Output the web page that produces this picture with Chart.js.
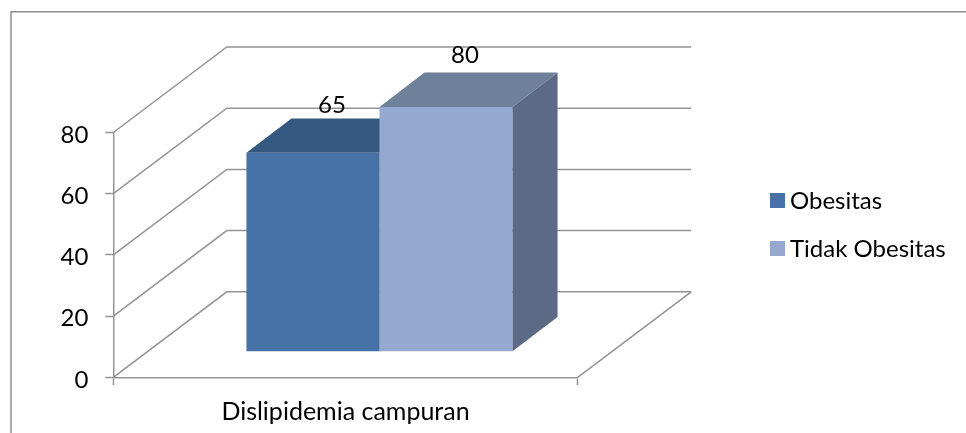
<!DOCTYPE html>
<html>
<head>
<meta charset="utf-8">
<title>Dislipidemia campuran</title>
<script src="https://cdn.jsdelivr.net/npm/chart.js@4"></script>
<style>
  html, body { margin: 0; padding: 0; background: #fff; overflow: hidden; }
  canvas { display: block; }
</style>
</head>
<body>
<canvas id="chart" width="966" height="433"></canvas>
<script>
// Data
const categories = ["Dislipidemia campuran"];
const obesitas = [65];
const tidakObesitas = [80];

// Pseudo 3D geometry (px)
const wallDepth = { x: 113.5, y: -85.5 };
const barShift = { x: 34, y: -25.6 };
const barDepth = { x: 45, y: -34.3 };

// Value labels sit over the back edge of the bar top
const valueLabelLift = [48, 52];

const lineColor = "#939393";
const textColor = "#000";
const fontFamily = "Lato, 'Open Sans', sans-serif";
const fontSize = 24;

// Colors for the side and top faces of each bar
const faces = [
  { top: "#34587F", side: "#34587F" },
  { top: "#6F809B", side: "#5D6A85" },
];

function polygon(ctx, points, color) {
  ctx.fillStyle = color;
  ctx.beginPath();
  points.forEach(([x, y], i) => (i ? ctx.lineTo(x, y) : ctx.moveTo(x, y)));
  ctx.closePath();
  ctx.fill();
}

function drawWalls(chart) {
  const { ctx, chartArea, scales } = chart;
  const { left, right, bottom } = chartArea;
  ctx.save();
  ctx.strokeStyle = lineColor;
  ctx.lineWidth = 1.5;
  scales.y.ticks.forEach((tick) => {
    const y = scales.y.getPixelForValue(tick.value);
    ctx.beginPath();
    ctx.moveTo(left, y);
    ctx.lineTo(left + wallDepth.x, y + wallDepth.y);
    ctx.lineTo(right + wallDepth.x, y + wallDepth.y);
    ctx.stroke();
  });
  ctx.beginPath();
  ctx.moveTo(right, bottom);
  ctx.lineTo(right + wallDepth.x, bottom + wallDepth.y);
  ctx.stroke();
  ctx.restore();
}

// Bars stand in the middle of the floor, so they are shifted into the depth.
// Left bar goes first so the right one covers its side face.
function drawBars(chart) {
  const ctx = chart.ctx;
  chart.data.datasets.forEach((ds, i) => {
    const meta = chart.getDatasetMeta(i);
    ctx.save();
    ctx.translate(barShift.x, barShift.y);
    meta.controller.draw();
    meta.data.forEach((bar) => {
      const l = bar.x - bar.width / 2;
      const r = bar.x + bar.width / 2;
      polygon(ctx, [
        [l, bar.y],
        [r, bar.y],
        [r + barDepth.x, bar.y + barDepth.y],
        [l + barDepth.x, bar.y + barDepth.y],
      ], faces[i].top);
      polygon(ctx, [
        [r, bar.y],
        [r + barDepth.x, bar.y + barDepth.y],
        [r + barDepth.x, bar.base + barDepth.y],
        [r, bar.base],
      ], faces[i].side);
    });
    ctx.restore();
  });
}

function drawLabels(chart) {
  const ctx = chart.ctx;
  ctx.save();
  ctx.font = fontSize + "px " + fontFamily;
  ctx.fillStyle = textColor;
  ctx.textAlign = "center";
  ctx.textBaseline = "middle";
  chart.data.datasets.forEach((ds, i) => {
    chart.getDatasetMeta(i).data.forEach((bar, j) => {
      ctx.fillText(ds.data[j], bar.x + barShift.x + 19, bar.y + barShift.y - valueLabelLift[i]);
    });
  });
  ctx.restore();
}

function drawLegend(chart) {
  const ctx = chart.ctx;
  ctx.save();
  ctx.font = fontSize + "px " + fontFamily;
  ctx.textAlign = "left";
  ctx.textBaseline = "middle";
  chart.data.datasets.forEach((ds, i) => {
    const y = 193 + i * 48;
    ctx.fillStyle = ds.backgroundColor;
    ctx.fillRect(770, y, 15, 15);
    ctx.fillStyle = textColor;
    ctx.fillText(ds.label, 790, y + 8);
  });
  ctx.restore();
}

const pseudo3d = {
  id: "pseudo3d",

  // Tick numbers sit a little below their tick marks
  afterUpdate(chart) {
    chart.scales.y.getLabelItems(chart.chartArea).forEach((item) => {
      item.options.translation[1] += 2.5;
    });
  },

  // Outer frame of the chart object, only top and left are visible
  beforeDraw(chart) {
    const ctx = chart.ctx;
    ctx.save();
    ctx.strokeStyle = "#8f8f8f";
    ctx.lineWidth = 1.5;
    ctx.beginPath();
    ctx.moveTo(11, 433);
    ctx.lineTo(11, 11.7);
    ctx.lineTo(966, 11.7);
    ctx.stroke();
    ctx.restore();
  },

  // Returning false skips the default draw, which would paint the left bar last
  beforeDatasetsDraw(chart) {
    drawWalls(chart);
    drawBars(chart);
    drawLabels(chart);
    drawLegend(chart);
    return false;
  },
};

new Chart(document.getElementById("chart"), {
  type: "bar",
  data: {
    labels: categories,
    datasets: [
      { label: "Obesitas", data: obesitas, backgroundColor: "#4672A8" },
      { label: "Tidak Obesitas", data: tidakObesitas, backgroundColor: "#95A9D0" },
    ],
  },
  plugins: [pseudo3d],
  options: {
    responsive: false,
    animation: false,
    events: [],
    layout: { padding: { top: 132.5, right: 388.3, bottom: 0, left: 0 } },
    datasets: { bar: { categoryPercentage: 0.573, barPercentage: 1 } },
    plugins: {
      legend: { display: false },
      tooltip: { enabled: false },
    },
    scales: {
      x: {
        afterFit(scale) { scale.height = 55.7; },
        border: { color: lineColor, width: 1.5 },
        grid: { drawOnChartArea: false, tickLength: 8, tickColor: lineColor, tickWidth: 1.5 },
        ticks: { color: textColor, padding: 12, maxRotation: 0, font: { family: fontFamily, size: 25 } },
      },
      y: {
        min: 0,
        max: 80,
        afterFit(scale) { scale.width = 113.3; },
        border: { color: lineColor, width: 1.5 },
        grid: { drawOnChartArea: false, tickLength: 8, tickColor: lineColor, tickWidth: 1.5 },
        ticks: { stepSize: 20, color: textColor, padding: 17, font: { family: fontFamily, size: fontSize } },
      },
    },
  },
});
</script>
</body>
</html>
